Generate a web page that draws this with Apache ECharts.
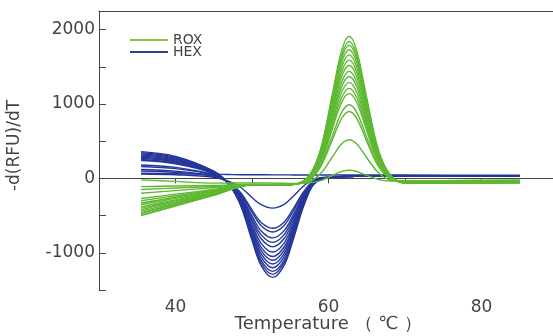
<!DOCTYPE html>
<html>
<head>
<meta charset="utf-8">
<script src="https://cdn.jsdelivr.net/npm/echarts@6/dist/echarts.min.js"></script>
<style>
  html, body { margin: 0; padding: 0; background: #fff; }
  #chart { width: 553px; height: 336px; }
</style>
</head>
<body>
<div id="chart"></div>
<script>
// temperatures (°C) where each curve was read
var roxTemps = [35.5, 40, 45, 50, 53, 55.5, 57.5, 59, 60.5, 61.7, 62.7, 63.7, 65, 66.5, 68, 70, 75, 85];
var hexTemps = [35.5, 40, 45, 47, 48.5, 50, 51.2, 52.7, 54.2, 55.4, 56.9, 58.4, 62, 70, 85];

// ROX melt curves, -d(RFU)/dT
var roxCurves = [
  [-500, -371, -228, -85, -90, -80, 42, 407, 1131, 1712, 1910, 1713, 1083, 391, 58, -60, -60, -55],
  [-490, -364, -225, -85, -90, -80, 37, 390, 1089, 1649, 1840, 1650, 1042, 375, 54, -60, -60, -55],
  [-470, -350, -218, -85, -90, -80, 34, 378, 1059, 1604, 1790, 1605, 1013, 364, 51, -60, -60, -55],
  [-460, -343, -215, -85, -90, -80, 31, 363, 1022, 1550, 1730, 1551, 979, 350, 48, -60, -60, -55],
  [-440, -330, -208, -85, -90, -80, 26, 346, 980, 1487, 1660, 1488, 938, 335, 44, -60, -60, -55],
  [-420, -316, -201, -85, -90, -80, 22, 329, 937, 1424, 1590, 1425, 898, 319, 40, -60, -60, -55],
  [-400, -302, -194, -85, -90, -80, 18, 312, 895, 1361, 1520, 1362, 857, 303, 37, -60, -60, -55],
  [-380, -288, -187, -85, -90, -80, 13, 293, 846, 1289, 1440, 1290, 811, 285, 32, -60, -60, -55],
  [-350, -268, -177, -85, -90, -80, 9, 276, 804, 1226, 1370, 1227, 770, 269, 28, -50, -50, -45],
  [-330, -254, -170, -85, -90, -80, 4, 256, 755, 1154, 1290, 1155, 724, 251, 24, -50, -50, -45],
  [-300, -233, -160, -85, -90, -80, -1, 237, 706, 1082, 1210, 1083, 678, 233, 20, -50, -50, -45],
  [-270, -212, -149, -85, -90, -80, -5, 220, 664, 1019, 1140, 1020, 637, 218, 16, -50, -50, -45],
  [-200, -164, -125, -85, -90, -80, -15, 184, 573, 884, 990, 885, 550, 184, 7, -50, -50, -45],
  [-150, -130, -108, -85, -90, -80, -20, 162, 518, 803, 900, 804, 498, 164, 3, -50, -50, -45],
  [-110, -102, -94, -80, -85, -75, -43, 69, 288, 461, 520, 462, 278, 78, -18, -30, -30, -25],
  [-20, -40, -63, -60, -65, -68, -60, -30, 39, 92, 110, 93, 41, -14, -35, -30, -30, -25]
];

// HEX melt curves, -d(RFU)/dT
var hexCurves = [
  [360, 295, 97, -86, -361, -833, -1172, -1330, -1168, -817, -331, -48, 25, 35, 30],
  [345, 283, 93, -84, -350, -808, -1137, -1290, -1133, -792, -320, -46, 25, 35, 30],
  [330, 271, 89, -82, -340, -783, -1102, -1250, -1098, -767, -310, -44, 25, 35, 30],
  [315, 258, 85, -79, -327, -752, -1058, -1200, -1054, -736, -297, -41, 25, 35, 30],
  [300, 246, 81, -77, -314, -721, -1014, -1150, -1010, -705, -284, -39, 25, 35, 30],
  [285, 234, 77, -74, -301, -690, -970, -1100, -966, -674, -271, -36, 25, 35, 30],
  [270, 221, 73, -72, -288, -659, -926, -1050, -922, -643, -258, -34, 25, 35, 30],
  [255, 209, 69, -69, -272, -622, -873, -990, -869, -606, -242, -31, 25, 35, 30],
  [240, 197, 65, -65, -254, -578, -812, -920, -808, -562, -224, -27, 25, 35, 30],
  [180, 148, 49, -62, -239, -541, -759, -860, -755, -525, -209, -24, 25, 35, 30],
  [160, 131, 43, -59, -223, -504, -706, -800, -702, -488, -193, -21, 25, 35, 30],
  [120, 98, 32, -55, -202, -454, -636, -720, -632, -438, -172, -17, 25, 35, 30],
  [100, 82, 27, -53, -189, -423, -592, -670, -588, -407, -159, -15, 25, 35, 30],
  [60, 49, 16, -39, -119, -256, -354, -400, -350, -240, -89, -1, 25, 35, 30],
  [70, 62, 55, 52, 50, 50, 50, 48, 48, 46, 45, 45, 45, 45, 42]
];

var yTickLabels = [-1000, 0, 1000, 2000];
var xTickLabels = [40, 60, 80];

var roxColor = '#5fb832';
var hexColor = '#27369a';
var font = 'DejaVu Sans';

function pair(temps, vals) {
  return vals.map(function (v, i) { return [temps[i], v]; });
}

var series = [];
hexCurves.forEach(function (c) {
  series.push({
    name: 'HEX', type: 'line', data: pair(hexTemps, c),
    symbol: 'none', smooth: 0.35, color: hexColor,
    lineStyle: { width: 1.4, color: hexColor }
  });
});
roxCurves.forEach(function (c) {
  series.push({
    name: 'ROX', type: 'line', data: pair(roxTemps, c),
    symbol: 'none', smooth: 0.35, color: roxColor,
    lineStyle: { width: 1.4, color: roxColor }
  });
});

var option = {
  animation: false,
  textStyle: { fontFamily: font },
  grid: {
    left: 99, right: -5, top: 11, bottom: 46,
    outerBoundsMode: 'none'
  },
  legend: {
    data: [
      { name: 'ROX', itemStyle: { color: '#8cc63f' } },
      { name: 'HEX', itemStyle: { color: '#2e3f9e' } }
    ],
    orient: 'vertical',
    left: 130, top: 33, padding: 0,
    icon: 'rect',
    itemWidth: 38, itemHeight: 2, itemGap: -2,
    textStyle: { fontSize: 14, color: '#444', fontFamily: font }
  },
  xAxis: [{
    type: 'value', min: 30, max: 90, interval: 10,
    name: 'Temperature （ ℃ ）',
    nameLocation: 'middle', nameGap: 25, nameMoveOverlap: false,
    nameTextStyle: { fontSize: 18, color: '#444', fontFamily: font },
    axisLine: { lineStyle: { color: '#444', width: 1 } },
    axisTick: { inside: false, length: 5, lineStyle: { color: '#444' } },
    axisLabel: {
      margin: 9, fontSize: 17, color: '#444',
      formatter: function (v) { return xTickLabels.indexOf(v) >= 0 ? String(v) : ''; }
    },
    splitLine: { show: false }
  }, {
    // top frame line
    type: 'value', position: 'top', min: 30, max: 90,
    axisLine: { show: true, lineStyle: { color: '#444', width: 1 } },
    axisTick: { show: false },
    axisLabel: { show: false },
    splitLine: { show: false }
  }],
  yAxis: {
    type: 'value', min: -1500, max: 2250, interval: 500,
    name: '-d(RFU)/dT',
    nameLocation: 'middle', nameGap: 76, nameRotate: 90, nameMoveOverlap: false,
    nameTextStyle: { fontSize: 17, color: '#444', fontFamily: font, padding: [0, 0, 0, 10] },
    axisLine: { show: true, lineStyle: { color: '#444', width: 1 } },
    axisTick: { show: true, inside: true, length: 7, lineStyle: { color: '#444' } },
    axisLabel: {
      margin: 4, fontSize: 17, color: '#444',
      formatter: function (v) { return yTickLabels.indexOf(v) >= 0 ? String(v) : ''; }
    },
    splitLine: { show: false }
  },
  series: series
};

var chart = echarts.init(document.getElementById('chart'));
chart.setOption(option, true);
</script>
</body>
</html>
